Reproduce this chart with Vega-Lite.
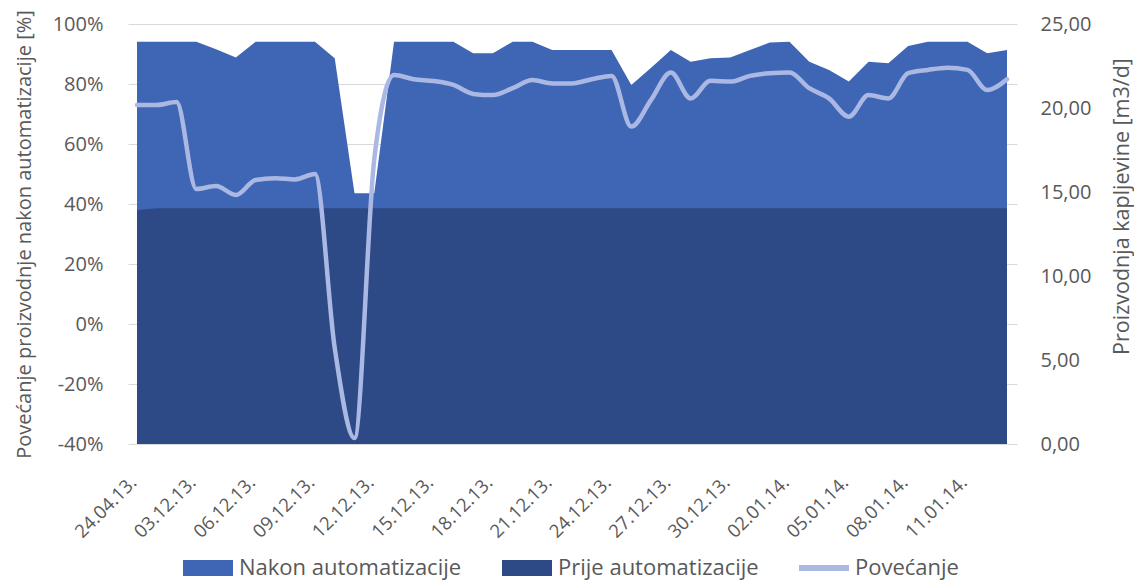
{
  "$schema": "https://vega.github.io/schema/vega-lite/v6.json",
  "width": 870,
  "height": 420,
  "autosize": {"type": "none"},
  "padding": {"left": 137, "top": 24, "right": 127, "bottom": 136},
  "background": "white",
  "config": {
    "font": "Open Sans",
    "view": {"stroke": null},
    "axis": {"labelColor": "#595959", "titleColor": "#595959", "labelFontSize": 20, "titleFontSize": 20, "titleFontWeight": "normal", "labelFont": "Open Sans", "titleFont": "Open Sans"}
  },
  "data": {"values": [
    {"d": "24.04.13.", "nakon": 23.95, "prije": 13.93, "pov": 73},
    {"d": "01.12.13.", "nakon": 23.95, "prije": 14.03, "pov": 73},
    {"d": "02.12.13.", "nakon": 23.95, "prije": 14.03, "pov": 74},
    {"d": "03.12.13.", "nakon": 23.95, "prije": 14.03, "pov": 45},
    {"d": "04.12.13.", "nakon": 23.5, "prije": 14.03, "pov": 46},
    {"d": "05.12.13.", "nakon": 23.0, "prije": 14.03, "pov": 43},
    {"d": "06.12.13.", "nakon": 23.95, "prije": 14.03, "pov": 48},
    {"d": "07.12.13.", "nakon": 23.95, "prije": 14.03, "pov": 48.6},
    {"d": "08.12.13.", "nakon": 23.95, "prije": 14.03, "pov": 48.2},
    {"d": "09.12.13.", "nakon": 23.95, "prije": 14.03, "pov": 50},
    {"d": "10.12.13.", "nakon": 22.96, "prije": 14.03, "pov": -8},
    {"d": "11.12.13.", "nakon": 14.92, "prije": 14.03, "pov": -38},
    {"d": "12.12.13.", "nakon": 14.92, "prije": 14.03, "pov": 55},
    {"d": "13.12.13.", "nakon": 23.95, "prije": 14.03, "pov": 83},
    {"d": "14.12.13.", "nakon": 23.95, "prije": 14.03, "pov": 81.6},
    {"d": "15.12.13.", "nakon": 23.95, "prije": 14.03, "pov": 81},
    {"d": "16.12.13.", "nakon": 23.95, "prije": 14.03, "pov": 79.7},
    {"d": "17.12.13.", "nakon": 23.26, "prije": 14.03, "pov": 76.7},
    {"d": "18.12.13.", "nakon": 23.26, "prije": 14.03, "pov": 76.3},
    {"d": "19.12.13.", "nakon": 23.95, "prije": 14.03, "pov": 78.6},
    {"d": "20.12.13.", "nakon": 23.95, "prije": 14.03, "pov": 81.3},
    {"d": "21.12.13.", "nakon": 23.45, "prije": 14.03, "pov": 80.2},
    {"d": "22.12.13.", "nakon": 23.45, "prije": 14.03, "pov": 80.2},
    {"d": "23.12.13.", "nakon": 23.45, "prije": 14.03, "pov": 81.6},
    {"d": "24.12.13.", "nakon": 23.45, "prije": 14.03, "pov": 82.7},
    {"d": "25.12.13.", "nakon": 21.37, "prije": 14.03, "pov": 65.8},
    {"d": "26.12.13.", "nakon": 22.4, "prije": 14.03, "pov": 74.7},
    {"d": "27.12.13.", "nakon": 23.45, "prije": 14.03, "pov": 83.8},
    {"d": "28.12.13.", "nakon": 22.76, "prije": 14.03, "pov": 75.2},
    {"d": "29.12.13.", "nakon": 22.96, "prije": 14.03, "pov": 81.1},
    {"d": "30.12.13.", "nakon": 23.0, "prije": 14.03, "pov": 80.8},
    {"d": "31.12.13.", "nakon": 23.45, "prije": 14.03, "pov": 82.7},
    {"d": "01.01.14.", "nakon": 23.9, "prije": 14.03, "pov": 83.6},
    {"d": "02.01.14.", "nakon": 23.95, "prije": 14.03, "pov": 83.8},
    {"d": "03.01.14.", "nakon": 22.76, "prije": 14.03, "pov": 78.6},
    {"d": "04.01.14.", "nakon": 22.26, "prije": 14.03, "pov": 75.2},
    {"d": "05.01.14.", "nakon": 21.57, "prije": 14.03, "pov": 69.1},
    {"d": "06.01.14.", "nakon": 22.76, "prije": 14.03, "pov": 76.3},
    {"d": "07.01.14.", "nakon": 22.66, "prije": 14.03, "pov": 75.2},
    {"d": "08.01.14.", "nakon": 23.69, "prije": 14.03, "pov": 83.6},
    {"d": "09.01.14.", "nakon": 23.95, "prije": 14.03, "pov": 84.7},
    {"d": "10.01.14.", "nakon": 23.95, "prije": 14.03, "pov": 85.4},
    {"d": "11.01.14.", "nakon": 23.95, "prije": 14.03, "pov": 84.7},
    {"d": "12.01.14.", "nakon": 23.26, "prije": 14.03, "pov": 78},
    {"d": "13.01.14.", "nakon": 23.45, "prije": 14.03, "pov": 81.6}
  ]},
  "encoding": {
    "x": {
      "field": "d", "type": "ordinal", "sort": null,
      "scale": {"type": "point", "padding": 0},
      "axis": {
        "title": null,
        "values": ["24.04.13.", "03.12.13.", "06.12.13.", "09.12.13.", "12.12.13.", "15.12.13.", "18.12.13.", "21.12.13.", "24.12.13.", "27.12.13.", "30.12.13.", "02.01.14.", "05.01.14.", "08.01.14.", "11.01.14."],
        "labelAngle": -45, "labelAlign": "right", "labelBaseline": "middle",
        "labelPadding": 35, "labelOffset": -4, "ticks": false, "domain": false, "grid": false,
        "labelFlush": false, "labelBound": false, "labelOverlap": false, "labelFontSize": 18.5
      }
    }
  },
  "layer": [
    {
      "layer": [
        {
          "mark": {"type": "area", "interpolate": "linear"},
          "encoding": {
            "y": {
              "field": "nakon", "type": "quantitative", "stack": null,
              "scale": {"domain": [0, 25], "nice": false, "zero": true},
              "axis": {
                "orient": "right",
                "title": "Proizvodnja kapljevine [m3/d]",
                "values": [0, 3.5714286, 5, 7.1428571, 10, 10.7142857, 14.2857143, 15, 17.8571429, 20, 21.4285714, 25],
                "labelExpr": "datum.value % 5 === 0 ? replace(format(datum.value, '.2f'), '.', ',') : ''",
                "tickOpacity": {"condition": {"test": "datum.value % 5 === 0 && datum.value > 0 && datum.value < 25", "value": 0}, "value": 1},
                "tickSize": 10, "tickColor": "#D9D9D9", "labelPadding": 23,
                "domain": false, "grid": false, "labelOverlap": false,
                "titleFontSize": 21.5, "titleX": 115, "titleY": 182, "titleAngle": 270, "titleBaseline": "middle", "titleAlign": "center"
              }
            },
            "color": {
              "datum": "Nakon automatizacije", "type": "nominal",
              "scale": {"domain": ["Nakon automatizacije", "Prije automatizacije", "Povećanje"], "range": ["#3E66B5", "#2D4A86", "#ABB8E3"]},
              "legend": {
                "orient": "none", "legendX": 46, "legendY": 519,
                "direction": "horizontal", "columns": 3, "columnPadding": 40,
                "title": null, "labelFontSize": 22, "labelColor": "#595959", "labelFont": "Open Sans",
                "labelOffset": 6, "labelLimit": 400, "symbolSize": 2500, "padding": 0,
                "encode": {
                  "symbols": {
                    "update": {
                      "shape": [
                        {"test": "datum.value === 'Povećanje'", "value": "M-1,-0.12H1V0.12H-1Z"},
                        {"value": "M-1,-0.32H1V0.32H-1Z"}
                      ],
                      "fill": {"scale": "color", "field": "value"},
                      "strokeWidth": {"value": 0},
                      "opacity": {"value": 1},
                      "fillOpacity": {"value": 1}
                    }
                  }
                }
              }
            }
          }
        },
        {
          "mark": {"type": "area", "interpolate": "linear"},
          "encoding": {
            "y": {
              "field": "prije", "type": "quantitative", "stack": null,
              "scale": {"domain": [0, 25], "nice": false, "zero": true},
              "axis": {
                "orient": "right",
                "title": "Proizvodnja kapljevine [m3/d]",
                "values": [0, 3.5714286, 5, 7.1428571, 10, 10.7142857, 14.2857143, 15, 17.8571429, 20, 21.4285714, 25],
                "labelExpr": "datum.value % 5 === 0 ? replace(format(datum.value, '.2f'), '.', ',') : ''",
                "tickOpacity": {"condition": {"test": "datum.value % 5 === 0 && datum.value > 0 && datum.value < 25", "value": 0}, "value": 1},
                "tickSize": 10, "tickColor": "#D9D9D9", "labelPadding": 23,
                "domain": false, "grid": false, "labelOverlap": false,
                "titleFontSize": 21.5, "titleX": 115, "titleY": 182, "titleAngle": 270, "titleBaseline": "middle", "titleAlign": "center"
              }
            },
            "color": {"datum": "Prije automatizacije", "type": "nominal"}
          }
        }
      ]
    },
    {
      "mark": {"type": "line", "interpolate": "monotone", "strokeWidth": 4.5, "strokeCap": "round", "strokeJoin": "round"},
      "encoding": {
        "y": {
          "field": "pov", "type": "quantitative",
          "scale": {"domain": [-40, 100], "nice": false, "zero": false},
          "axis": {
            "orient": "left",
            "title": "Povećanje proizvodnje nakon automatizacije [%]",
            "values": [-40, -20, 0, 20, 40, 60, 80, 100],
            "labelExpr": "datum.value + '%'",
            "grid": true, "gridColor": "#D9D9D9", "gridWidth": 1,
            "domain": false, "tickSize": 9, "tickColor": "#D9D9D9",
            "labelPadding": 25, "titlePadding": 18, "labelOverlap": false
          }
        },
        "color": {"datum": "Povećanje", "type": "nominal"}
      }
    }
  ],
  "resolve": {"scale": {"y": "independent"}}
}
